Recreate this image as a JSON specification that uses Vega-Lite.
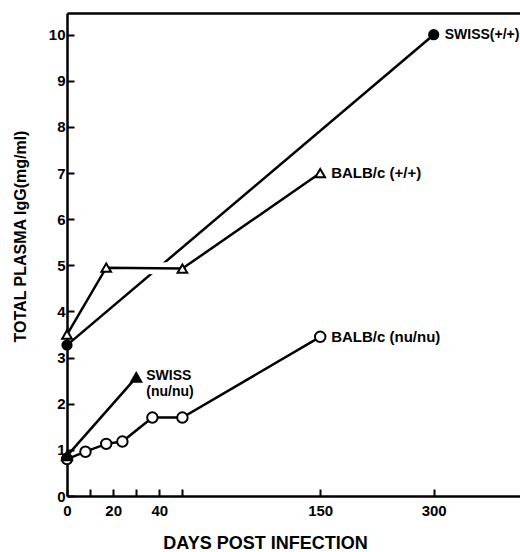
{
  "$schema": "https://vega.github.io/schema/vega-lite/v6.json",
  "width": 453,
  "height": 483,
  "autosize": "none",
  "padding": {"left": 67, "top": 13, "right": 0, "bottom": 56},
  "background": "white",
  "config": {"view": {"stroke": null}, "font": "Liberation Sans"},
  "data": {
    "values": [
      {"series": "SWISS(+/+)", "day": 0, "value": 3.27, "label": null},
      {"series": "SWISS(+/+)", "day": 300, "value": 10.0, "label": "SWISS(+/+)"},
      {"series": "BALB/c (+/+)", "day": 0, "value": 3.5, "label": null},
      {"series": "BALB/c (+/+)", "day": 17, "value": 4.95, "label": null},
      {"series": "BALB/c (+/+)", "day": 50, "value": 4.93, "label": null},
      {"series": "BALB/c (+/+)", "day": 150, "value": 7.0, "label": "BALB/c (+/+)"},
      {"series": "BALB/c (nu/nu)", "day": 0, "value": 0.8, "label": null},
      {"series": "BALB/c (nu/nu)", "day": 8, "value": 0.96, "label": null},
      {"series": "BALB/c (nu/nu)", "day": 17, "value": 1.13, "label": null},
      {"series": "BALB/c (nu/nu)", "day": 24, "value": 1.18, "label": null},
      {"series": "BALB/c (nu/nu)", "day": 37, "value": 1.7, "label": null},
      {"series": "BALB/c (nu/nu)", "day": 50, "value": 1.7, "label": null},
      {"series": "BALB/c (nu/nu)", "day": 150, "value": 3.45, "label": "BALB/c (nu/nu)"},
      {"series": "SWISS (nu/nu)", "day": 0, "value": 0.87, "label": null},
      {"series": "SWISS (nu/nu)", "day": 30, "value": 2.57, "label": "SWISS\n(nu/nu)"}
    ]
  },
  "encoding": {
    "y": {
      "field": "value",
      "type": "quantitative",
      "scale": {"domain": [0, 10.47], "nice": false, "zero": false},
      "axis": {
        "values": [0, 1, 2, 3, 4, 5, 6, 7, 8, 9, 10],
        "grid": false,
        "domainColor": "black",
        "domainWidth": 2.5,
        "tickColor": "black",
        "tickWidth": 2,
        "tickSize": -7,
        "labelPadding": 9,
        "labelFont": "Liberation Sans",
        "labelFontWeight": "bold",
        "labelFontSize": 15,
        "labelColor": "black",
        "labelFlush": false,
        "labelOverlap": false,
        "title": "TOTAL PLASMA IgG(mg/ml)",
        "titleFont": "Liberation Sans",
        "titleFontWeight": "bold",
        "titleFontSize": 16,
        "titleColor": "black",
        "titleAngle": -90,
        "titleAlign": "center",
        "titleBaseline": "alphabetic",
        "titleX": -42,
        "titleY": 223
      }
    }
  },
  "layer": [
    {
      "transform": [{"filter": "datum.series === 'SWISS(+/+)'"}],
      "mark": {"type": "line", "color": "black", "strokeWidth": 2.5},
      "encoding": {
        "x": {
          "field": "day",
          "type": "quantitative",
          "scale": {"domain": [0, 50, 150, 300, 414], "range": [0, 115.4, 253.2, 366.7, 453], "nice": false, "zero": false},
          "axis": {"orient": "top", "ticks": false, "labels": false, "title": null, "grid": false, "domainColor": "black", "domainWidth": 2.5}
        }
      }
    },
    {
      "transform": [{"filter": "datum.series === 'BALB/c (+/+)' && datum.day >= 17 && datum.day <= 50"}],
      "mark": {"type": "line", "color": "white", "strokeWidth": 12, "strokeCap": "butt"},
      "encoding": {
        "x": {"field": "day", "type": "quantitative", "axis": null}
      }
    },
    {
      "transform": [{"filter": "datum.series !== 'SWISS(+/+)'"}],
      "mark": {"type": "line", "color": "black", "strokeWidth": 2.5},
      "encoding": {
        "detail": {"field": "series", "type": "nominal"},
        "x": {
          "field": "day",
          "type": "quantitative",
          "axis": {
            "orient": "bottom",
            "values": [0, 10, 20, 30, 40, 50, 150, 300],
            "labelExpr": "indexof([10, 30, 50], datum.value) >= 0 ? '' : datum.label",
            "grid": false,
            "domainColor": "black",
            "domainWidth": 2.5,
            "tickColor": "black",
            "tickWidth": 2,
            "tickSize": -7,
            "labelPadding": 14,
            "labelFont": "Liberation Sans",
            "labelFontWeight": "bold",
            "labelFontSize": 15,
            "labelColor": "black",
            "labelFlush": false,
            "labelOverlap": false,
            "title": "DAYS POST INFECTION",
            "titleFont": "Liberation Sans",
            "titleFontWeight": "bold",
            "titleFontSize": 18,
            "titleColor": "black",
            "titleAlign": "center",
            "titleBaseline": "alphabetic",
            "titleX": 198,
            "titleY": 52
          }
        }
      }
    },
    {
      "mark": {"type": "point", "filled": true, "stroke": "black", "strokeWidth": 2, "opacity": 1},
      "encoding": {
        "x": {"field": "day", "type": "quantitative", "axis": null},
        "shape": {
          "field": "series", "type": "nominal", "legend": null,
          "scale": {"domain": ["SWISS(+/+)", "BALB/c (+/+)", "SWISS (nu/nu)", "BALB/c (nu/nu)"], "range": ["circle", "triangle-up", "triangle-up", "circle"]}
        },
        "fill": {
          "field": "series", "type": "nominal", "legend": null,
          "scale": {"domain": ["SWISS(+/+)", "BALB/c (+/+)", "SWISS (nu/nu)", "BALB/c (nu/nu)"], "range": ["black", "white", "black", "white"]}
        },
        "size": {
          "field": "series", "type": "nominal", "legend": null,
          "scale": {"domain": ["SWISS(+/+)", "BALB/c (+/+)", "SWISS (nu/nu)", "BALB/c (nu/nu)"], "range": [85, 110, 120, 60]}
        }
      }
    },
    {
      "transform": [{"filter": "datum.series === 'SWISS(+/+)' && datum.label != null"}],
      "mark": {"type": "text", "align": "left", "baseline": "middle", "dx": 11, "font": "Liberation Sans", "fontWeight": "bold", "fontSize": 14, "color": "black"},
      "encoding": {
        "x": {"field": "day", "type": "quantitative", "axis": null},
        "text": {"field": "label", "type": "nominal"}
      }
    },
    {
      "transform": [{"filter": "datum.label != null && (datum.series === 'BALB/c (+/+)' || datum.series === 'BALB/c (nu/nu)')"}],
      "mark": {"type": "text", "align": "left", "baseline": "middle", "dx": 11, "font": "Liberation Sans", "fontWeight": "bold", "fontSize": 15, "color": "black"},
      "encoding": {
        "x": {"field": "day", "type": "quantitative", "axis": null},
        "text": {"field": "label", "type": "nominal"}
      }
    },
    {
      "transform": [{"filter": "datum.label != null && datum.series === 'SWISS (nu/nu)'"}],
      "mark": {"type": "text", "align": "left", "baseline": "top", "dx": 10, "dy": -8, "lineBreak": "\n", "lineHeight": 16, "font": "Liberation Sans", "fontWeight": "bold", "fontSize": 14, "color": "black"},
      "encoding": {
        "x": {"field": "day", "type": "quantitative", "axis": null},
        "text": {"field": "label", "type": "nominal"}
      }
    }
  ],
  "resolve": {"axis": {"x": "independent"}}
}
